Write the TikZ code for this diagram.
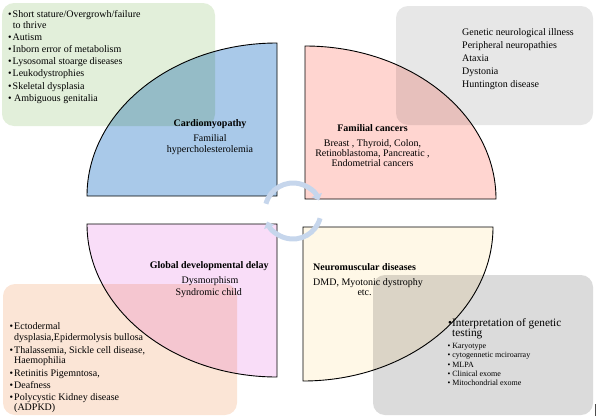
\documentclass[tikz,border=0pt]{standalone}
\usepackage{fontspec}
\setmainfont{Liberation Serif}
\usetikzlibrary{arrows.meta}
\definecolor{boxgreen}{HTML}{E2EFDA}
\definecolor{boxgreytr}{HTML}{E7E7E7}
\definecolor{boxpeach}{HTML}{FBE5D6}
\definecolor{boxgreybr}{HTML}{DBDBDB}
\definecolor{secblue}{HTML}{A9C9E9}
\definecolor{secpink}{HTML}{FFD5D0}
\definecolor{seclav}{HTML}{F9DDF8}
\definecolor{secyel}{HTML}{FFF8E7}
\definecolor{ringcol}{HTML}{C6D6EC}
\begin{document}
\begin{tikzpicture}[x=1pt,y=-1pt,
  box/.style={fill=#1, rounded corners=12pt},
  sector/.style={draw=black, line width=0.9pt, fill=#1},
  tw/.style={inner sep=0pt, anchor=base west, font=\fontsize{10}{12}\selectfont},
  tc/.style={inner sep=0pt, anchor=base, font=\fontsize{10}{12}\selectfont},
  tb/.style={inner sep=0pt, anchor=base, font=\bfseries\fontsize{10}{12}\selectfont},
  tbw/.style={inner sep=0pt, anchor=base west, font=\bfseries\fontsize{10}{12}\selectfont},
  ts/.style={inner sep=0pt, anchor=base west, font=\fontsize{8}{9}\selectfont},
  tl/.style={inner sep=0pt, anchor=base west, font=\fontsize{11.3}{12}\selectfont},
  ring/.style={draw=ringcol, line width=5pt, -{Triangle[width=11pt,length=6pt]}}
]
\useasboundingbox (0,0) rectangle (597,418);

% background boxes
\path[box=boxgreen]  (2,3) rectangle (215,126);
\path[box=boxgreytr] (396,6) rectangle (593,125);
\path[box=boxpeach]  (3,284) rectangle (237,415);
\path[box=boxgreybr] (373,275) rectangle (593,415);

% box texts
\node[tw] (g1) at (8,17)    {•\hspace{1pt}Short stature/Overgrowh/failure};
\node[tw] (g2) at (12.7,28) {to thrive};
\node[tw] (g3) at (8,40.2)  {•\hspace{1pt}Autism};
\node[tw] (g4) at (8,52.4)  {•\hspace{1pt}Inborn error of metabolism};
\node[tw] (g5) at (8,64.6)  {•\hspace{1pt}Lysosomal stoarge diseases};
\node[tw] (g6) at (8,76.8)  {•\hspace{1pt}Leukodystrophies};
\node[tw] (g7) at (8,89)    {•\hspace{1pt}Skeletal dysplasia};
\node[tw] (g8) at (8,101.2) {•\ Ambiguous genitalia};

\node[tw] (n1) at (462,35)   {Genetic neurological illness};
\node[tw] (n2) at (462,48.2) {Peripheral neuropathies};
\node[tw] (n3) at (462,61.4) {Ataxia};
\node[tw] (n4) at (462,74.6) {Dystonia};
\node[tw] (n5) at (462,87.8) {Huntington disease};

\node[tw] (p1) at (9.5,329.7) {•\hspace{1pt}Ectodermal};
\node[tw] (p2) at (14,340.3)  {dysplasia,Epidermolysis bullosa};
\node[tw] (p3) at (9.5,353)   {•\hspace{1pt}Thalassemia, Sickle cell disease,};
\node[tw] (p4) at (14,363)    {Haemophilia};
\node[tw] (p5) at (9.5,376.3) {•\hspace{1pt}Retinitis Pigemntosa,};
\node[tw] (p6) at (9.5,388)   {•\hspace{1pt}Deafness};
\node[tw] (p7) at (9.5,400.3) {•\hspace{1pt}Polycystic Kidney disease};
\node[tw] (p8) at (14,410.7)  {(ADPKD)};

\node[tl] (i1) at (448,326.5) {•Interpretation of genetic};
\node[tl] (i2) at (452,336.8) {testing};
\node[ts] (k1) at (447.3,348.5) {• Karyotype};
\node[ts] (k2) at (447.3,357.8) {• cytogennetic mciroarray};
\node[ts] (k3) at (447.3,367)   {• MLPA};
\node[ts] (k4) at (447.3,376.4) {• Clinical exome};
\node[ts] (k5) at (447.3,385.8) {• Mitochondrial exome};

% sectors
\begin{scope}[blend mode=multiply]
\draw[sector=secblue] (87,196) arc[start angle=180, end angle=270, x radius=190, y radius=153] -- (277,196) -- cycle;
\draw[sector=secpink] (305,46) arc[start angle=270, end angle=360, x radius=191, y radius=153] -- (305,199) -- cycle;
\draw[sector=seclav]  (87,224) arc[start angle=180, end angle=90, x radius=190, y radius=153] -- (277,224) -- cycle;
\draw[sector=secyel]  (493,227) arc[start angle=0, end angle=90, x radius=190, y radius=154] -- (303,227) -- cycle;
\end{scope}

% sector texts
\node[tb] (c1) at (210,126.5) {Cardiomyopathy};
\node[tc] (c2) at (210,141.5) {Familial};
\node[tc] (c3) at (210,152)   {hypercholesterolemia};

\node[tb] (f1) at (372.5,131) {Familial cancers};
\node[tc] (f2) at (372.5,146) {Breast , Thyroid, Colon,};
\node[tc] (f3) at (372.5,156) {Retinoblastoma, Pancreatic ,};
\node[tc] (f4) at (372.5,166) {Endometrial cancers};

\node[tb] (d1) at (209.2,268)   {Global developmental delay};
\node[tc] (d2) at (210,283)     {Dysmorphism};
\node[tc] (d3) at (208.7,295.7) {Syndromic child};

\node[tbw] (m1) at (313,270)   {Neuromuscular diseases};
\node[tw]  (m2) at (313,285)   {DMD, Myotonic dystrophy};
\node[tw]  (m3) at (357.3,295) {etc.};

% central cycle arrows
\coordinate (cyc) at (293,211);
\draw[ring] (cyc) ++(195:28) arc[start angle=195, end angle=338, radius=28];
\draw[ring] (cyc) ++(15:28) arc[start angle=15, end angle=158, radius=28];

% small mark at lower right edge
\draw[line width=0.8pt, black!70] (595.8,404) -- (595.8,416);
\end{tikzpicture}
\end{document}
